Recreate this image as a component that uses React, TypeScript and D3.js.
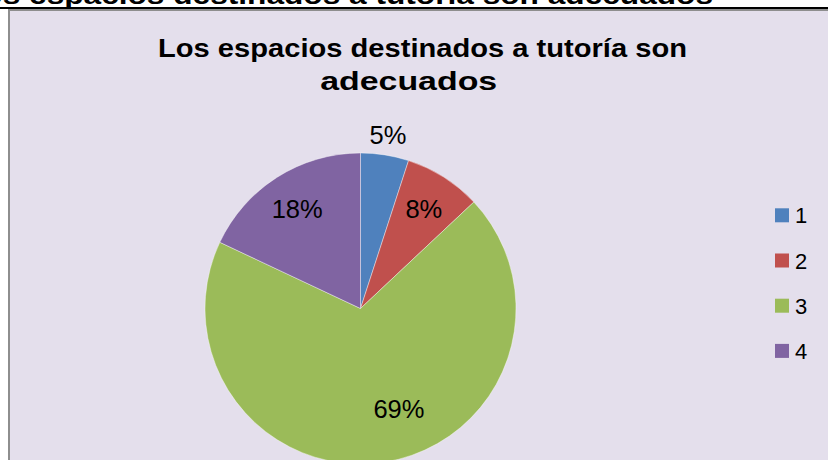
import React from "react";
import * as d3 from "d3";

const categories = ["1", "2", "3", "4"];
const values = [5, 8, 69, 18];
const labels = ["5%", "8%", "69%", "18%"];
const colors = ["#4F81BD", "#C0504D", "#9BBB59", "#8064A2"];
const titleLines = ["Los espacios destinados a tutoría son", "adecuados"];
const headingText = "Los espacios destinados a tutoría son adecuados";

const W = 828;
const H = 460;
const FONT = "Arial, 'Liberation Sans', Helvetica, sans-serif";

export default function App() {
  const cx = 360.5;
  const cy = 308.5;
  const r = 155.5;

  const pie = d3
    .pie<number>()
    .sort(null)
    .startAngle(0)
    .endAngle(2 * Math.PI)
    .value((d) => d);
  const arcs = pie(values);
  const arc = d3.arc<d3.PieArcDatum<number>>().innerRadius(0).outerRadius(r);

  const labelFont = 25.5;

  return (
    <svg
      width={W}
      height={H}
      style={{ position: "absolute", left: 0, top: 0, display: "block" }}
    >
      <rect x={0} y={0} width={W} height={H} fill="#ffffff" />
      {/* cropped heading above */}
      <text
        x={-36}
        y={4}
        fontFamily={FONT}
        fontWeight="bold"
        fontSize={26}
        textLength={749}
        lengthAdjust="spacingAndGlyphs"
        fill="#000"
      >
        {headingText}
      </text>
      <rect x={0} y={7} width={W} height={2} fill="#000" />
      {/* chart area */}
      <rect
        x={9}
        y={10}
        width={W + 20}
        height={H + 20}
        fill="#E4DFEC"
        stroke="#8e8e8e"
        strokeWidth={2}
      />
      {/* title */}
      <text
        x={422.5}
        y={57}
        textAnchor="middle"
        fontFamily={FONT}
        fontWeight="bold"
        fontSize={25}
        textLength={529}
        lengthAdjust="spacingAndGlyphs"
        fill="#000"
      >
        {titleLines[0]}
      </text>
      <text
        x={408.7}
        y={90}
        textAnchor="middle"
        fontFamily={FONT}
        fontWeight="bold"
        fontSize={25}
        textLength={177}
        lengthAdjust="spacingAndGlyphs"
        fill="#000"
      >
        {titleLines[1]}
      </text>
      {/* pie */}
      <g transform={`translate(${cx},${cy})`}>
        {arcs.map((a, i) => (
          <path
            key={i}
            d={arc(a) || ""}
            fill={colors[i]}
            stroke="#ffffff"
            strokeOpacity={0.5}
            strokeWidth={0.8}
          />
        ))}
        {arcs.map((a, i) => {
          const share = (a.endAngle - a.startAngle) / (2 * Math.PI);
          let mid = (a.startAngle + a.endAngle) / 2;
          let dist = share < 0.06 ? r * 1.13 : r * 0.76;
          if (share > 0.5) {
            mid -= (12 * Math.PI) / 180;
            dist = r * 0.69;
          }
          const x = Math.sin(mid) * dist;
          const y = -Math.cos(mid) * dist;
          return (
            <text
              key={i}
              x={x}
              y={y + labelFont * 0.36}
              textAnchor="middle"
              fontFamily={FONT}
              fontSize={labelFont}
              fill="#000"
            >
              {labels[i]}
            </text>
          );
        })}
      </g>
      {/* legend */}
      {categories.map((c, i) => (
        <g key={c} transform={`translate(775,${208.3 + i * 45.2})`}>
          <rect x={0} y={0} width={14} height={14} fill={colors[i]} />
          <text
            x={20}
            y={15}
            fontFamily={FONT}
            fontSize={22}
            fill="#000"
          >
            {c}
          </text>
        </g>
      ))}
    </svg>
  );
}
